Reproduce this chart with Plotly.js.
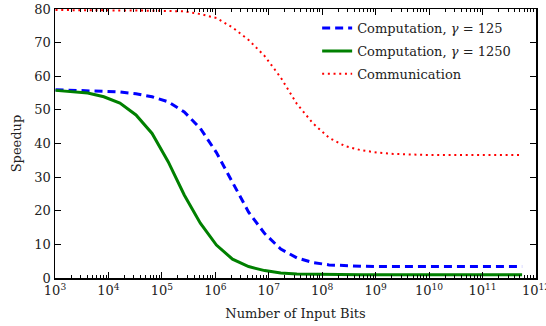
<!DOCTYPE html>
<html>
<head>
<meta charset="utf-8">
<script src="https://cdn.plot.ly/plotly-3.0.1.min.js"></script>
<style>html,body{margin:0;padding:0;background:#fff;}#chart{width:546px;height:326px;}</style>
</head>
<body>
<div id="chart"></div>
<script>
// Input size exponents (bits = 2^n)
const exponents = [10,11,12,13,14,15,16,17,18,19,20,21,22,23,24,25,26,27,28,29,30,31,32,33,34,35,36,37,38,39];
const compGamma125 = [56.0,55.9,55.8,55.5,55.3,54.8,53.9,52.4,49.4,44.5,37.3,28.6,19.6,13.2,8.6,6.0,4.6,3.9,3.6,3.5,3.4,3.4,3.4,3.4,3.4,3.4,3.4,3.4,3.4,3.4];
const compGamma1250 = [55.8,55.5,55.0,53.9,52.0,48.5,43.0,34.6,24.7,16.3,9.8,5.6,3.4,2.2,1.5,1.2,1.1,1.05,1.0,1.0,1.0,1.0,1.0,1.0,1.0,1.0,1.0,1.0,1.0,1.0];
const communication = [79.7,79.7,79.7,79.7,79.6,79.6,79.5,79.4,79.3,78.5,77.3,74.5,70.8,66.0,59.6,51.8,46.0,41.7,39.2,38.0,37.3,36.9,36.7,36.6,36.6,36.6,36.6,36.6,36.6,36.6];
const seriesNames = ['Computation, <i>γ</i> = 125', 'Computation, <i>γ</i> = 1250', 'Communication'];
const xTickVals = [1e3,1e4,1e5,1e6,1e7,1e8,1e9,1e10,1e11,1e12];
const xTickText = ['10<sup>3</sup>','10<sup>4</sup>','10<sup>5</sup>','10<sup>6</sup>','10<sup>7</sup>','10<sup>8</sup>','10<sup>9</sup>','10<sup>10</sup>','10<sup>11</sup>','10<sup>12</sup>'];
const yTickVals = [0,10,20,30,40,50,60,70,80];

const bits = exponents.map(n => Math.pow(2, n));
const font = "'DejaVu Serif', serif";
const txt = '#222';

const traces = [
  {x: bits, y: compGamma125, name: seriesNames[0], legendgroup: 'a', mode: 'lines',
   line: {color: '#0000ff', width: 3, dash: '8px,5px'}},
  {x: bits, y: compGamma1250, name: seriesNames[1], legendgroup: 'b', mode: 'lines',
   line: {color: '#008000', width: 3}},
  {x: bits, y: communication, name: seriesNames[2], legendgroup: 'c', mode: 'lines',
   line: {color: '#ff0000', width: 2, dash: '2px,3.7px'}}
];

const layout = {
  width: 546, height: 326,
  margin: {l: 55, r: 10, t: 9, b: 48},
  paper_bgcolor: '#fff', plot_bgcolor: '#fff',
  font: {family: font, size: 13, color: txt},
  showlegend: true,
  legend: {x: 0.545, y: 0.985, xanchor: 'left', yanchor: 'top', bgcolor: 'rgba(0,0,0,0)',
           font: {family: font, size: 13, color: txt}, itemwidth: 30, tracegroupgap: 3},
  xaxis: {
    type: 'log', range: [3, 12.0005], tickvals: xTickVals, ticktext: xTickText,
    ticklabeloverflow: 'allow',
    ticks: 'inside', ticklen: 6, tickwidth: 1, tickcolor: '#000',
    showline: true, linecolor: '#000', linewidth: 1.5, mirror: 'ticks',
    showgrid: false, zeroline: false,
    minor: {ticks: 'inside', ticklen: 3, tickwidth: 1, tickcolor: '#000', dtick: 'D1', showgrid: false},
    tickfont: {family: font, size: 13, color: txt},
    title: {text: 'Number of Input Bits', font: {family: font, size: 13, color: txt}, standoff: 12}
  },
  yaxis: {
    range: [0, 80], tickvals: yTickVals,
    ticks: 'inside', ticklen: 6, tickwidth: 1, tickcolor: '#000',
    showline: true, linecolor: '#000', linewidth: 1.5, mirror: 'ticks',
    showgrid: false, zeroline: false,
    tickfont: {family: font, size: 13, color: txt},
    title: {text: 'Speedup', font: {family: font, size: 13, color: txt}, standoff: 10}
  }
};

Plotly.newPlot('chart', traces, layout, {displayModeBar: false, staticPlot: true});
</script>
</body>
</html>
